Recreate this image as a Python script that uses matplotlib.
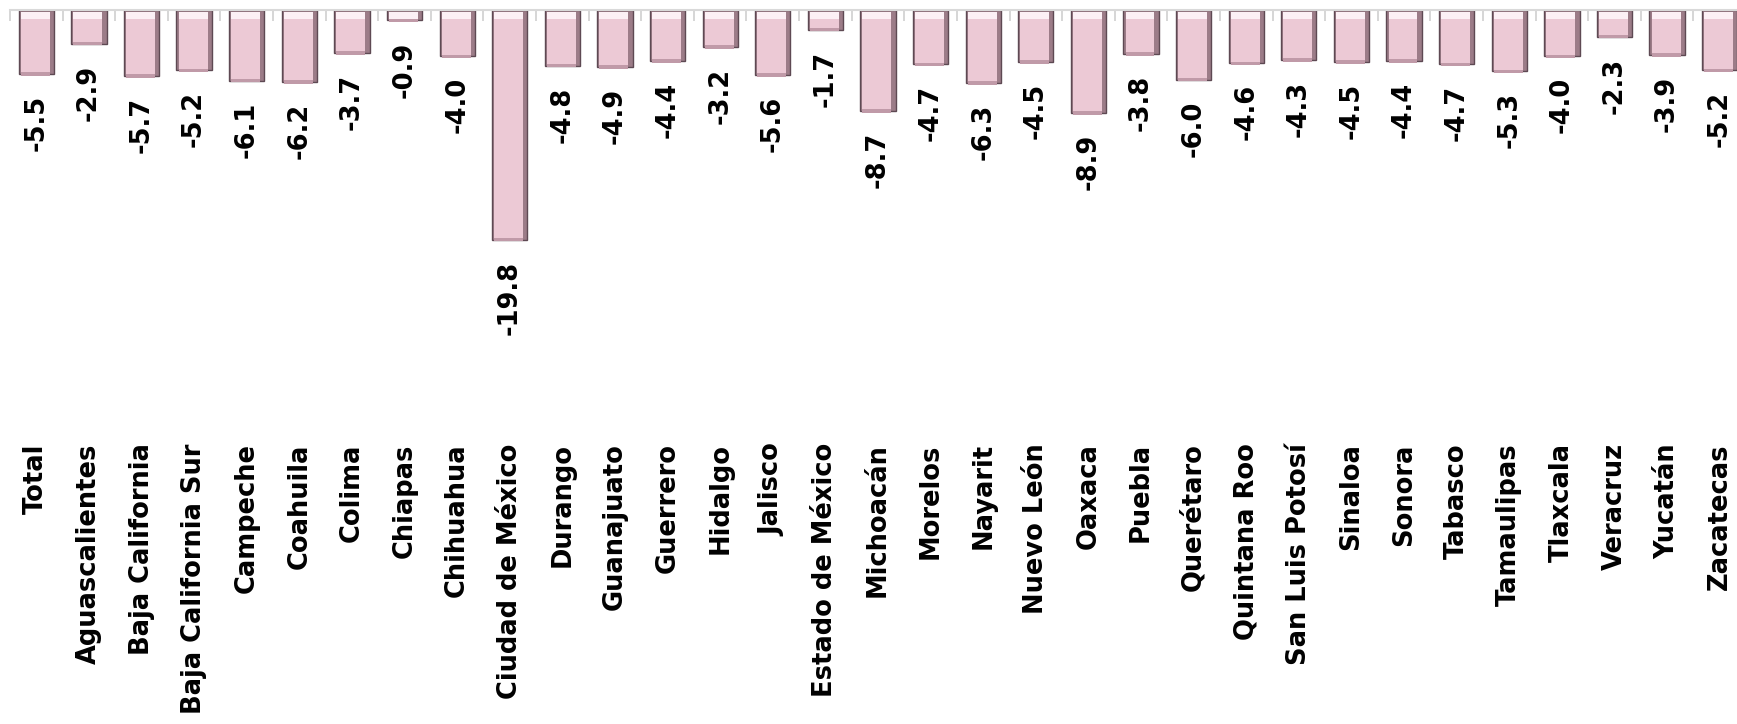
import numpy as np
import matplotlib
matplotlib.use("Agg")
import matplotlib.pyplot as plt

estados = ["Total", "Aguascalientes", "Baja California", "Baja California Sur", "Campeche",
           "Coahuila", "Colima", "Chiapas", "Chihuahua", "Ciudad de México", "Durango",
           "Guanajuato", "Guerrero", "Hidalgo", "Jalisco", "Estado de México", "Michoacán",
           "Morelos", "Nayarit", "Nuevo León", "Oaxaca", "Puebla", "Querétaro",
           "Quintana Roo", "San Luis Potosí", "Sinaloa", "Sonora", "Tabasco", "Tamaulipas",
           "Tlaxcala", "Veracruz", "Yucatán", "Zacatecas"]
variacion = [-5.5, -2.9, -5.7, -5.2, -6.1, -6.2, -3.7, -0.9, -4.0, -19.8, -4.8,
             -4.9, -4.4, -3.2, -5.6, -1.7, -8.7, -4.7, -6.3, -4.5, -8.9, -3.8, -6.0,
             -4.6, -4.3, -4.5, -4.4, -4.7, -5.3, -4.0, -2.3, -3.9, -5.2]

fig = plt.figure(figsize=(17.37, 7.24), dpi=100)
# axes runs a bit past the right edge, like the original
ax = fig.add_axes([10 / 1737, 1 - 439 / 724, 1736 / 1737, 429 / 724])

x = np.arange(len(estados))
v = np.array(variacion)
# beveled look: dark outer bar, lighter face, light band at the top, darker band at the end
ax.bar(x, v, width=0.67, color="#9c7c88", edgecolor="#5e4953", linewidth=1.0, zorder=2)
ax.bar(x - 0.02, v + 0.35, width=0.55, bottom=-0.2, color="#ecc9d5", linewidth=0, zorder=3)
ax.bar(x - 0.02, -0.6, width=0.55, bottom=-0.2, color="#fcf0f5", linewidth=0, zorder=4)
ax.bar(x - 0.02, -0.3, width=0.55, bottom=v + 0.15, color="#c09aa8", linewidth=0, zorder=4)

for xi, val in zip(x, variacion):
    ax.annotate(f"{val:.1f}", (xi, val), xytext=(0, -15), textcoords="offset points",
                rotation=90, ha="center", va="top", fontsize=18.5, fontweight="bold")

ax.set_xlim(-0.5, len(estados) - 0.5)
ax.set_ylim(-37, 0)
ax.set_xticks(x)
ax.set_xticklabels(estados, rotation=90, fontsize=18.5, fontweight="bold")
ax.tick_params(axis="x", length=0, pad=3)
ax.set_xticks(np.arange(-0.5, len(estados)), minor=True)
ax.tick_params(axis="x", which="minor", bottom=False, top=True, direction="in",
               length=8, color="#d0d0d0", width=1.2)
ax.set_yticks([])
for s in ["left", "right", "bottom"]:
    ax.spines[s].set_visible(False)
ax.spines["top"].set_color("#d9d9d9")
ax.spines["top"].set_linewidth(1.5)

plt.savefig("out.png", dpi=100)
